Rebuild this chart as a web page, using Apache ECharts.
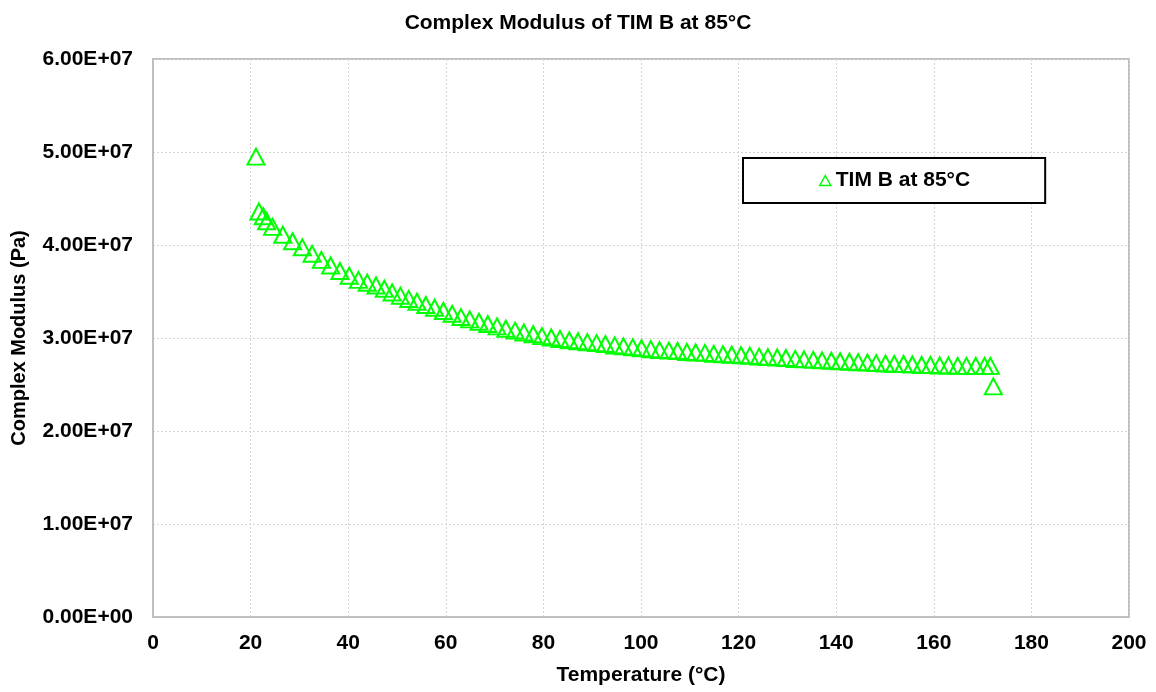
<!DOCTYPE html>
<html>
<head>
<meta charset="utf-8">
<title>Complex Modulus of TIM B at 85°C</title>
<script src="https://cdn.jsdelivr.net/npm/echarts@6/dist/echarts.min.js"></script>
<style>
  html, body { margin: 0; padding: 0; background: #ffffff; }
  #chart { width: 1156px; height: 692px; }
</style>
</head>
<body>
<div id="chart"></div>
<script>
// Temperature sweep (°C) and complex modulus (Pa) for TIM B at 85°C
const temperature = [
  21.1, 21.7, 22.6, 23.3, 24.5, 26.6, 28.6, 30.6, 32.6, 34.5,
  36.4, 38.3, 40.2, 42.1, 43.9, 45.7, 47.4, 49.0, 50.7, 52.4,
  54.1, 55.9, 57.7, 59.5, 61.3, 63.1, 64.9, 66.8, 68.6, 70.5,
  72.3, 74.2, 76.0, 77.9, 79.7, 81.6, 83.4, 85.3, 87.1, 89.0,
  90.9, 92.7, 94.6, 96.4, 98.3, 100.1, 102.0, 103.8, 105.7, 107.5,
  109.4, 111.2, 113.1, 114.9, 116.8, 118.6, 120.5, 122.3, 124.2, 126.0,
  127.9, 129.7, 131.6, 133.4, 135.3, 137.1, 139.0, 140.8, 142.7, 144.5,
  146.4, 148.2, 150.1, 151.9, 153.8, 155.6, 157.5, 159.3, 161.2, 163.0,
  164.9, 166.7, 168.6, 170.4, 171.6, 172.2
];
const complexModulus = [
  4.95e7, 4.36e7, 4.31e7, 4.255e7, 4.195e7, 4.11e7, 4.04e7, 3.975e7, 3.905e7, 3.84e7,
  3.78e7, 3.72e7, 3.67e7, 3.625e7, 3.595e7, 3.565e7, 3.53e7, 3.49e7, 3.455e7, 3.42e7,
  3.39e7, 3.355e7, 3.325e7, 3.29e7, 3.26e7, 3.225e7, 3.20e7, 3.175e7, 3.15e7, 3.125e7,
  3.10e7, 3.08e7, 3.06e7, 3.04e7, 3.02e7, 3.005e7, 2.99e7, 2.975e7, 2.965e7, 2.955e7,
  2.945e7, 2.935e7, 2.92e7, 2.91e7, 2.90e7, 2.89e7, 2.88e7, 2.87e7, 2.865e7, 2.86e7,
  2.85e7, 2.845e7, 2.84e7, 2.83e7, 2.825e7, 2.82e7, 2.815e7, 2.81e7, 2.80e7, 2.795e7,
  2.79e7, 2.785e7, 2.775e7, 2.77e7, 2.765e7, 2.76e7, 2.755e7, 2.75e7, 2.745e7, 2.74e7,
  2.735e7, 2.73e7, 2.725e7, 2.72e7, 2.72e7, 2.715e7, 2.71e7, 2.71e7, 2.705e7, 2.705e7,
  2.70e7, 2.70e7, 2.70e7, 2.70e7, 2.70e7, 2.48e7
];

const seriesName = 'TIM B at 85°C';
const chartTitle = 'Complex Modulus of TIM B at 85°C';
const xAxisTitle = 'Temperature (°C)';
const yAxisTitle = 'Complex Modulus (Pa)';

const FONT = '"Liberation Sans", Arial, sans-serif';
const GREEN = '#00ff00';

// Excel-style scientific label: 6.00E+07
function sci(v) {
  if (v === 0) return '0.00E+00';
  const exp = Math.floor(Math.log10(Math.abs(v)));
  const mant = v / Math.pow(10, exp);
  const e = Math.abs(exp) < 10 ? '0' + Math.abs(exp) : String(Math.abs(exp));
  return mant.toFixed(2) + 'E' + (exp < 0 ? '-' : '+') + e;
}

const points = temperature.map((t, i) => [t, complexModulus[i]]);

function boldText(size) {
  return { fontFamily: FONT, fontSize: size, fontWeight: 'bold', color: '#000' };
}

const chart = echarts.init(document.getElementById('chart'), null, { renderer: 'canvas' });
chart.setOption({
  backgroundColor: '#ffffff',
  animation: false,
  title: {
    text: chartTitle,
    left: 'center',
    top: 8,
    textStyle: boldText(21)
  },
  grid: {
    left: 153, right: 27, top: 59, bottom: 75,
    outerBoundsMode: 'none',
    containLabel: false,
    show: true, borderColor: '#bfbfbf', borderWidth: 2
  },
  legend: {
    left: 743, top: 158,
    padding: [12, 75, 12, 76],
    backgroundColor: '#ffffff',
    borderColor: '#000000',
    borderWidth: 2,
    borderRadius: 0,
    itemWidth: 11, itemHeight: 10, itemGap: 5,
    icon: 'triangle',
    itemStyle: { color: 'rgba(0,0,0,0)', borderColor: GREEN, borderWidth: 1.5 },
    textStyle: boldText(21),
    data: [seriesName]
  },
  xAxis: {
    type: 'value',
    min: 0, max: 200, interval: 20,
    name: xAxisTitle,
    nameLocation: 'middle',
    nameGap: 48,
    nameTextStyle: boldText(21),
    axisLine: { show: true, lineStyle: { color: '#bfbfbf', width: 2 } },
    axisTick: { show: false },
    axisLabel: Object.assign({ margin: 16 }, boldText(21)),
    splitLine: { show: true, lineStyle: { color: '#d4d4d4', type: [2, 2], width: 1 } }
  },
  yAxis: {
    type: 'value',
    min: 0, max: 6e7, interval: 1e7,
    name: yAxisTitle,
    nameLocation: 'middle',
    nameGap: 124,
    nameRotate: 90,
    nameTextStyle: boldText(20),
    axisLine: { show: true, lineStyle: { color: '#bfbfbf', width: 2 } },
    axisTick: { show: false },
    axisLabel: Object.assign({ margin: 20, formatter: sci }, boldText(21)),
    splitLine: { show: true, lineStyle: { color: '#d4d4d4', type: [2, 2], width: 1 } }
  },
  series: [{
    name: seriesName,
    type: 'scatter',
    symbol: 'triangle',
    symbolSize: [17, 16],
    itemStyle: { color: 'rgba(0,0,0,0)', borderColor: GREEN, borderWidth: 2, opacity: 1 },
    emphasis: { disabled: true },
    data: points
  }]
});
</script>
</body>
</html>
